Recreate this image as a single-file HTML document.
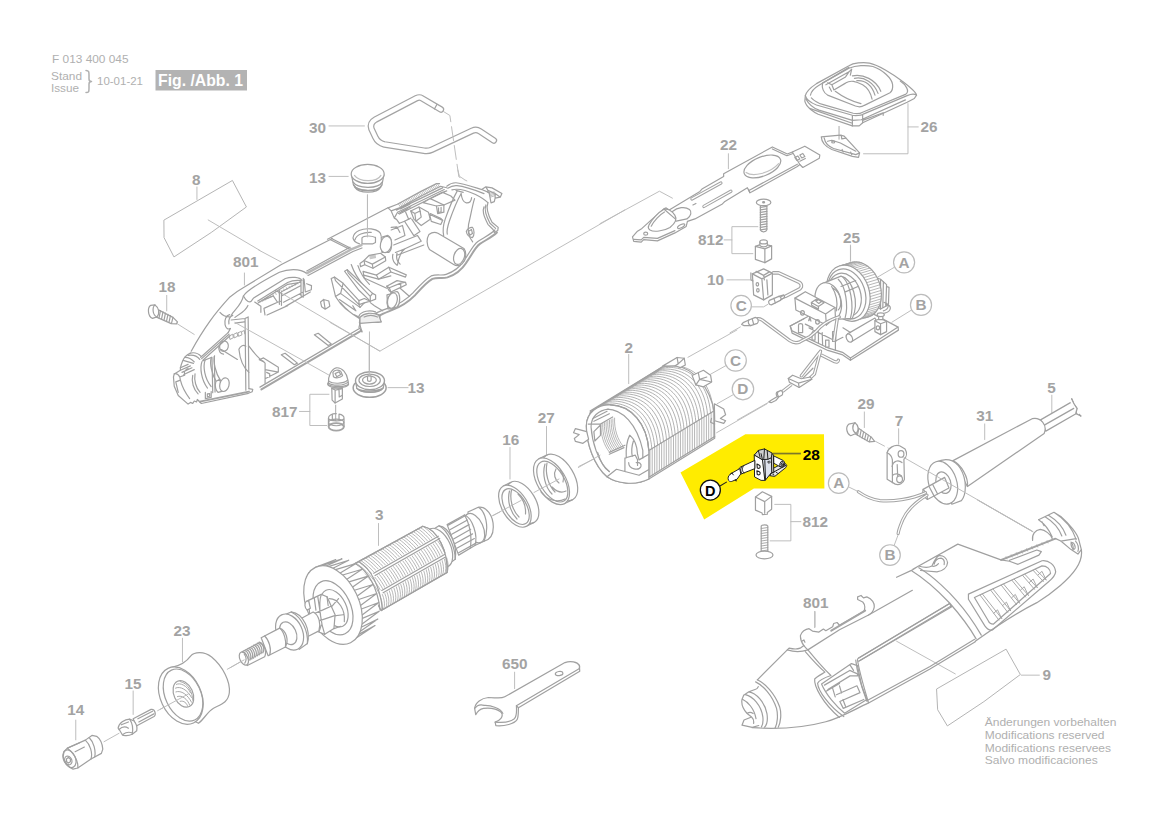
<!DOCTYPE html>
<html><head><meta charset="utf-8">
<style>
html,body{margin:0;padding:0;background:#fff;}
body{width:1169px;height:826px;overflow:hidden;font-family:"Liberation Sans",sans-serif;}
svg{display:block;position:absolute;left:0;top:0;}
svg path,svg line,svg ellipse,svg circle,svg polyline,svg polygon,svg rect{vector-effect:non-scaling-stroke;}
.l{fill:none;stroke:#a0a0a0;stroke-width:1.2;stroke-linecap:round;stroke-linejoin:round;}
.f{fill:#fff;stroke:#a0a0a0;stroke-width:1.2;stroke-linecap:round;stroke-linejoin:round;}
.t{fill:none;stroke:#bababa;stroke-width:0.95;stroke-linecap:round;stroke-linejoin:round;}
.k{fill:none;stroke:#a4a4a4;stroke-width:2;stroke-linecap:round;stroke-linejoin:round;}
.d{fill:none;stroke:#222;stroke-width:1;stroke-linecap:round;stroke-linejoin:round;}
.n{font-family:"Liberation Sans",sans-serif;font-weight:bold;font-size:15.3px;fill:#a3a3a3;}
.s{font-family:"Liberation Sans",sans-serif;font-size:11.5px;fill:#b0b0b0;}
</style></head><body>
<svg width="1169" height="826" viewBox="0 0 1169 826">
<g id="hdr">
<text class="s" x="52" y="63" textLength="76.5" lengthAdjust="spacingAndGlyphs">F 013 400 045</text>
<text class="s" x="51" y="79.5" textLength="31" lengthAdjust="spacingAndGlyphs">Stand</text>
<text class="s" x="51" y="91.5" textLength="28" lengthAdjust="spacingAndGlyphs">Issue</text>
<text class="s" x="97" y="84.8" textLength="46" lengthAdjust="spacingAndGlyphs">10-01-21</text>
<path class="l" d="M86,70.5 C89,70.5 89,72 89,75 L89,79 C89,81 90,81.5 91.5,81.5 C90,81.5 89,82 89,84 L89,88 C89,91.5 89,92.5 86,92.5" style="stroke:#b0b0b0;stroke-width:1.5"/>
<rect x="155.5" y="70" width="91.5" height="20.5" fill="#b3b3b3"/>
<text x="158" y="86" font-family="Liberation Sans" font-weight="bold" font-size="17" fill="#fff" textLength="85" lengthAdjust="spacingAndGlyphs">Fig. /Abb. 1</text>
</g>
<!-- yellow highlight (drawn early so others paint over) -->
<polygon points="680.5,472.4 745.4,434.2 824,434.2 824.4,488.6 753.9,488.6 704.2,519.4" fill="#ffec00"/>
<!-- zone S: origin 165,300 scale 1/6.4944 : left housing nose/interior -->
<g id="zS" transform="translate(165,300) scale(0.15398)">
<path class="l" d="M55,500 L60,480 L100,456 L100,440 C108,410 118,385 130,370 C140,358 152,350 165,345"/>
<path class="l" d="M165,345 C185,340 215,346 235,366 M150,360 C180,355 210,366 226,386 M130,372 C150,372 175,385 190,402 M118,392 L185,412"/>
<path class="l" d="M232,372 L410,212 M238,381 L416,222 M246,391 L422,232"/>
<path class="l" d="M420,95 C395,100 385,130 390,160 C395,186 410,192 422,186 M440,100 C420,108 412,130 415,155 M410,212 L425,185"/>
<path class="l" d="M520,120 L525,586 M540,110 L545,576 M520,120 L540,110 M430,130 L520,120 M455,150 L515,142"/>
<!-- nose -->
<path class="l" d="M55,500 L60,560 L86,620 L150,676 L166,665 L180,672 L190,656 L205,662 L210,646 L236,672 L542,606 L566,596 L570,580 L545,576"/>
<path class="k" d="M226,660 L545,595"/>
<path class="l" d="M60,480 C72,476 88,486 96,500 L128,488 C122,470 132,452 150,446 M96,500 L100,520 L70,532 M100,456 L165,428 M110,470 L175,440 M122,484 L190,452 M100,440 L150,418 M70,532 L86,600 M100,520 C110,560 130,600 160,640"/>
<path class="l" d="M180,490 C170,530 185,580 215,610 M195,480 C188,520 200,570 228,600 M240,400 C225,440 236,520 276,572 M260,392 C246,430 256,510 300,562 M300,372 C290,410 300,480 340,542 M322,362 C312,400 326,470 360,522"/>
<path class="l" d="M305,372 L310,602 M320,366 L325,598 M245,395 L305,372 M262,600 L262,640 L300,632 L300,595 M275,610 L290,608 L290,625 L275,628 Z"/>
<path class="f" d="M355,515 L330,530 C322,560 330,590 345,600 L375,592 Z"/>
<ellipse class="f" cx="386" cy="550" rx="30" ry="45" transform="rotate(15 386 550)"/>
<ellipse class="l" cx="383" cy="300" rx="28" ry="34" transform="rotate(15 383 300)"/>
<path class="l" d="M350,300 C345,330 360,350 380,352 M366,322 L470,386"/>
<path class="l" d="M480,320 C490,296 510,290 525,300 M480,320 C486,380 510,440 545,470 M545,300 C575,340 605,380 640,400"/>
<path class="l" d="M612,388 L640,376 L736,436 L736,468 M640,400 L650,410 L650,540 M650,452 L736,468 L650,512 M612,388 L640,400 M660,470 L680,480 L680,500"/>
<path class="l" style="stroke-width:0.9" d="M420,232 L440,222 L444,245 L424,255 Z M448,222 L468,212 L472,235 L452,245 Z M476,212 L496,204 L500,226 L480,235 Z M502,204 L515,198 L518,220"/>
<path class="l" d="M755,356 L780,346 L860,410 L840,420 Z M970,226 L995,216 L1080,286 L1060,296 Z"/>
</g>
<!-- zone T: origin 230,230 scale 1/9.717 : left housing slot detail -->
<g id="zT" transform="translate(230,230) scale(0.10291)">
<path class="l" d="M270,690 L560,510 C600,492 650,488 690,492 M275,708 L562,528 L690,508 M690,492 L690,640 L712,652 L712,470 M720,480 L732,602 L790,580 L792,540 L745,522 M500,600 L690,500 M500,640 L690,540 M520,702 L712,602 M540,742 L780,602 M440,590 L500,612 L500,732 M480,590 L480,722 M280,702 L420,640 L462,702 L330,762 M330,762 L340,826 M462,702 L500,690 M360,826 L560,735 M240,700 L300,740 L300,800"/>
<path class="t" style="stroke:#a4a4a4;stroke-width:0.7" d="M285,690 L291,706 M311,677 L317,693 M338,664 L344,680 M364,651 L370,667 M390,638 L396,654 M417,625 L423,641 M443,612 L449,628 M469,599 L475,615 M496,586 L502,602 M522,573 L528,589 M548,560 L554,576 M575,547 L581,563 M601,534 L607,550 M627,521 L633,537 M654,508 L660,524 M680,495 L686,511"/>
<path class="l" d="M880,700 L910,675 L960,690 L970,740 L925,770 L890,745 Z M910,675 L925,770"/>
</g>
<!-- zone A: origin 160,250 scale 1/4 -->
<g id="zA" transform="translate(160,250) scale(0.2498)">
<!-- outer top edge -->
<path class="l" d="M125,405 C150,360 175,320 200,285 C225,250 255,215 280,188 C300,172 320,158 338,148 L486,58 L690,-46"/>
<path class="l" d="M285,262 C295,240 325,225 334,184 C345,165 400,130 478,89 C510,76 560,72 588,94"/>
<path class="l" d="M300,270 C315,255 340,250 352,222 M334,184 C345,205 358,212 366,204 L375,192 L502,114 C525,106 560,108 568,122"/>
<path class="l" d="M240,250 C250,262 262,268 278,268"/>
<!-- bottom edge -->
<path class="l" d="M400,549 L800,313"/><path class="k" d="M406,558 L806,323"/>
<path class="l" d="M800,313 L808,327"/>
<!-- floor tabs -->


<!-- leaders -->
<path class="t" d="M300,290 L675,500 M490,175 L880,405 M70,296 L137,338 M338,92 L338,140 M395,0 L485,48"/>
</g>
<!-- zone W: origin 290,360 scale 1/8.977 : 817, 13 bottom -->
<g id="zW" transform="translate(290,360) scale(0.11140)">
<path class="t" d="M350,308 L178,308 L178,588 L330,588 M85,462 L178,462 M880,248 L1060,248 M712,-150 L712,160"/>
<path class="t" d="M410,405 L410,545" stroke-dasharray="22 10" style="stroke:#a4a4a4"/>
<!-- 817 stem -->
<path class="f" d="M375,250 L378,360 L405,386 L470,350 L470,255 Z"/>
<path class="l" d="M405,270 L405,386 M440,262 L442,332 L470,316 M405,270 L375,255 M405,270 L470,258"/>
<!-- 817 cap -->
<ellipse class="f" cx="432" cy="216" rx="94" ry="34"/>
<path class="f" d="M345,205 C340,150 370,80 415,70 C470,65 510,120 520,180 C526,200 524,215 518,222 C480,245 390,245 348,224 Z"/>
<path class="l" d="M350,190 C380,216 480,216 516,182 M346,206 C380,234 485,234 520,198 M385,112 C395,90 430,85 455,100 L472,140 C450,162 410,166 390,150 Z M405,122 L440,106 L456,130 L420,150 Z"/>
<!-- spring -->
<path class="l" d="M345,522 C345,496 380,480 415,482 M440,486 C470,490 488,506 485,526 L485,600 M345,522 L345,600 M350,530 C370,550 460,552 482,530 M380,488 L380,540 M440,486 L440,545"/>
<ellipse class="k" cx="415" cy="600" rx="68" ry="34" style="stroke-width:1.8"/>
<ellipse class="l" cx="415" cy="560" rx="68" ry="30"/>
<!-- 13 bottom -->
<ellipse class="f" cx="715" cy="250" rx="148" ry="85" style="stroke-width:1.5"/>
<path class="f" d="M588,188 L600,255 C640,300 800,300 838,250 L848,184 Z"/>
<ellipse class="f" cx="718" cy="186" rx="130" ry="80" style="stroke-width:1.4"/>
<ellipse class="l" cx="715" cy="182" rx="96" ry="56"/>
<ellipse class="l" cx="713" cy="180" rx="62" ry="36"/>
<path class="f" d="M696,150 C696,138 728,138 728,150 L728,182 C728,194 696,194 696,182 Z"/>
<path class="l" d="M600,255 C650,285 790,285 838,250 M612,262 C660,300 780,300 826,262"/>
<path class="t" d="M712,-150 L712,150"/>
</g>
<text class="n" x="272" y="417">817</text>
<text class="n" x="407.5" y="393">13</text>
<!-- zone B: origin 330,170 scale 1/4 -->
<g id="zB" transform="translate(330,170) scale(0.2498)">
<!-- top edges -->
<path class="l" d="M-10,277 L232,151"/>




<!-- right end -->

<path class="k" d="M668,250 C650,268 620,282 600,296 C580,310 565,345 545,372 C530,395 500,420 470,430 C450,436 430,428 410,436 C385,450 360,480 340,502 C320,522 290,545 250,560 C230,568 210,575 200,582 L196,602 C170,604 140,598 120,592"/>
<path class="l" d="M660,240 C640,260 612,272 592,286 C572,300 557,335 537,362 C522,385 495,408 465,418 C447,424 428,416 405,424 C380,438 352,470 332,492 C312,512 284,534 246,548 C224,556 200,566 180,574 M120,592 L118,610 M196,602 L205,608 C180,614 140,608 118,610 M150,582 C170,572 190,576 200,582"/>
<!-- inner curve behind cylinder -->


<!-- big cylinder -->
<path class="f" d="M396,258 C412,246 426,250 432,253 L536,314 C548,330 545,360 530,374 C518,384 505,384 495,378 L398,318 C386,300 386,275 396,258 Z"/>
<ellipse class="l" cx="517" cy="346" rx="21" ry="33" transform="rotate(18 517 346)"/>
<!-- small cylinders -->
<path class="f" d="M205,270 L232,262 C250,270 252,315 236,330 L208,330 Z"/>
<ellipse class="f" cx="224" cy="298" rx="22" ry="33" transform="rotate(12 224 298)"/>
<path class="f" d="M228,500 L262,492 C278,505 274,545 258,556 L232,556 Z"/>
<ellipse class="f" cx="250" cy="525" rx="21" ry="31" transform="rotate(14 250 525)"/>
<!-- plug seat -->
<path class="l" d="M92,272 C95,245 130,232 165,236 C190,240 205,252 205,265 M100,280 C105,258 135,248 165,250 M92,272 C94,285 105,292 118,296 M128,272 L128,296 L170,296 L182,290 L182,270 M128,272 C135,262 165,262 182,270"/>
<!-- mid details -->

<path class="l" d="M245,240 L290,222 L300,262 L260,280 M255,300 L350,262 L365,285 L300,315 L262,330 M245,230 L268,228 L280,250 M300,315 C285,325 275,350 270,380"/>
<path class="l" d="M6,274 L85,314 M2,279 L80,318 M-93,404 L80,309 M-88,422 L92,326 L128,312"/><path class="k" style="stroke:#b8b8b8;stroke-width:2.4" d="M-92,413 L85,318 L126,301"/>
<!-- opening edge continues -->
<path class="l" d="M118,610 L122,628 L128,648"/>
<!-- leaders -->
<path class="t" d="M150,100 L150,268 M158,648 L158,800 M0,610 L200,725 L1180,160"/>
<path class="t" d="M512,0 L518,25 L548,45" stroke-dasharray="12 5"/>
</g>
<!-- zone Z: origin 325,245 scale 1/9.717 : left housing mid interior -->
<g id="zZ" transform="translate(325,245) scale(0.10291)">
<path class="l" d="M255,190 C280,262 320,332 382,402 M320,200 C340,262 372,322 432,382 M660,90 C650,130 665,170 700,196 M700,80 C690,120 700,160 730,186 M700,100 L960,0 M730,420 L822,500 M560,640 L480,590 L440,560"/>
<!-- fin 2 -->
<path class="f" d="M190,255 L216,240 L462,470 L492,486 L492,526 L440,546 L330,440 Z"/>
<path class="l" d="M216,240 L225,270 L440,500 L462,470 M440,500 L440,546"/>
<!-- fin 1 -->
<path class="f" d="M60,325 L92,312 L176,372 L330,540 L382,520 L440,546 L382,562 L340,606 L150,470 L102,500 Z"/>
<path class="l" d="M92,312 L102,346 L330,580 L340,606 M330,540 L330,580 L382,562 M176,372 L152,470 M102,500 C150,580 230,660 330,700 M150,560 C200,620 260,670 330,712 M140,530 L300,640 L270,590"/>
<!-- block A -->
<path class="f" d="M380,150 L430,100 L540,80 L586,116 L590,152 L466,226 L386,192 Z"/>
<path class="l" d="M380,150 L460,186 L586,116 M460,186 L466,226 M340,180 L380,150 M340,180 L345,210 L386,192"/>
<path class="t" style="stroke:#a4a4a4;stroke-width:0.7" d="M436,104 L440,134 M446,102 L450,132 M456,100 L460,130 M466,98 L470,128 M476,96 L480,126 M486,94 L490,124"/>
<!-- block B -->
<path class="f" d="M370,256 L500,292 L620,216 L790,290 L782,312 L640,262 L520,332 L376,292 Z"/>
<path class="l" d="M500,292 L520,332 M620,216 L640,262 M376,292 L380,320 L600,420 M520,332 L640,300"/>
<!-- block C -->
<path class="f" d="M600,400 L700,346 L782,362 L790,386 L736,412 L640,456 L622,442 Z"/>
<path class="l" d="M600,400 L625,415 L736,370 L782,362 M625,415 L640,456 M736,370 L736,412"/>
<!-- small cylinder -->
<path class="f" d="M640,466 L700,452 C732,472 736,562 702,602 L660,612 Z"/>
<ellipse class="f" cx="655" cy="540" rx="46" ry="76" transform="rotate(14 655 540)"/>
<!-- seat -->
<path class="f" style="fill:#f0f0f0" d="M340,702 C380,660 460,650 522,682 L546,746 L340,762 Z"/>
<path class="l" d="M330,690 C350,640 440,630 490,650 M340,762 L330,800 M380,700 C420,680 470,680 510,700"/>
</g>
<!-- zone V: origin 385,178 scale 1/9.717 : left housing upper-right detail -->
<g id="zV" transform="translate(385,178) scale(0.10291)">
<path class="l" d="M30,290 L120,255 L350,130 L500,55 L530,55 M60,320 L140,290 L370,165 L540,80 L600,95 M110,312 L560,96 M122,332 L576,112 M30,290 L60,320 L90,390 L112,402 L140,440 M90,390 L122,332 M140,350 L560,140"/>
<path class="t" style="stroke:#a4a4a4;stroke-width:0.7" d="M130,252 L152,284 M145,244 L167,276 M160,236 L182,268 M176,229 L198,261 M191,221 L213,253 M206,213 L228,245 M221,205 L243,237 M236,197 L258,229 M252,190 L274,222 M267,182 L289,214 M282,174 L304,206 M297,166 L319,198 M312,158 L334,190 M328,151 L350,183 M343,143 L365,175 M358,135 L380,167 M373,127 L395,159 M388,119 L410,151 M404,112 L426,144 M419,104 L441,136 M434,96 L456,128 M449,88 L471,120 M464,80 L486,112 M480,73 L502,105 M495,65 L517,97 M510,57 L532,89"/>
<path class="l" d="M600,80 C630,55 660,45 690,46 C740,50 850,85 940,112 L1012,142 M610,100 C640,80 670,72 700,75 C750,80 880,120 962,152 M650,116 C700,100 780,115 880,160 C930,185 975,215 1000,240"/>
<path class="l" d="M940,112 L980,86 L1040,96 L1136,150 L1120,186 L1070,196 L1062,230 L1030,242 L1012,142 M980,86 L1000,120 L1070,150 L1120,186 M1000,120 L1000,140 M1070,150 L1070,196"/>
<path class="t" style="stroke:#a4a4a4;stroke-width:0.7" d="M1010,150 L1060,135 M1015,162 L1065,146 M1020,174 L1068,158 M1025,186 L1068,172"/>
<path class="l" d="M1000,240 C985,280 985,330 1040,430 L1100,480 L1096,510 L1062,530 M962,280 C945,320 955,360 1000,450 L1050,500 L1062,530 M980,262 C965,300 970,345 1020,440 L1075,490"/>
<path class="l" d="M700,130 C660,200 620,300 585,400 C565,460 560,510 570,560 M740,150 C700,220 660,320 625,420 C605,480 600,520 605,545 M870,200 C850,260 830,380 812,450 C800,520 820,580 852,620 M740,150 C745,200 760,235 790,242 C820,245 838,220 842,190 M690,120 L760,140"/>
<path class="l" d="M790,520 C800,495 830,475 850,480 C870,500 870,560 850,580 C820,575 795,550 790,520 Z M810,520 L840,500 L850,540 L825,555 Z"/>
<!-- blocks -->
<path class="f" d="M370,240 L440,200 L572,262 L572,332 L512,346 L500,272 Z"/>
<path class="l" d="M500,272 L572,262 M520,290 L520,335 L545,330 L545,285"/>
<path class="f" d="M250,320 L330,282 L422,332 L440,402 L352,462 L282,402 Z"/>
<path class="l" d="M250,320 L290,345 L300,420 M290,345 L340,320 L352,380 L300,420 M330,282 L345,330"/>
<path class="f" d="M432,352 L560,412 L542,452 L450,422 Z"/>
<path class="l" d="M560,412 L545,395 L440,345 M190,420 L280,560 L340,520 L260,400 M140,440 L190,420 L250,390"/>
<path class="l" d="M150,300 L240,255 M160,325 L250,280 M130,345 L220,302 M200,330 L230,400"/>
<path class="l" d="M572,262 L680,215 M440,200 L560,140 L640,175 L680,215 M560,140 L600,125"/>
</g>
<!-- zone C: origin 292,60 scale 1/4 : part 30, 13 top -->
<g id="zC" transform="translate(292,60) scale(0.2498)">
<path d="M596,198 L520,153 Q510,147 498,153 L335,238 Q310,252 318,276 L334,310 Q344,332 370,338 L528,363 Q545,366 560,359 L722,283 Q738,276 752,285 L808,322" fill="none" stroke="#a4a4a4" stroke-width="6.6" stroke-linecap="round" stroke-linejoin="round"/>
<path d="M596,198 L520,153 Q510,147 498,153 L335,238 Q310,252 318,276 L334,310 Q344,332 370,338 L528,363 Q545,366 560,359 L722,283 Q738,276 752,285 L808,322" fill="none" stroke="#fff" stroke-width="4.2" stroke-linecap="round" stroke-linejoin="round"/>
<path class="l" d="M580,178 L570,196"/>
<path class="t" d="M148,264 L290,264 M148,466 L225,466 M302,540 L302,690"/>
<path class="t" d="M606,206 L632,222 L668,468 L700,484" stroke-dasharray="14 5"/>
<!-- 13 top plug -->
<path class="f" d="M238,460 L246,500 C262,530 345,532 360,500 L368,460 Z"/>
<path class="l" d="M244,488 C262,516 345,518 362,488 M246,500 C262,528 345,530 360,500 M250,508 C268,536 340,536 356,508"/>
<ellipse class="f" cx="303" cy="456" rx="66" ry="38"/>
<path class="l" d="M250,462 C270,490 340,490 356,462" style="stroke:#c0c0c0"/>
</g>
<text class="n" x="309" y="132.5">30</text>
<text class="n" x="309" y="183">13</text>
<!-- zone D: origin 130,160 scale 1/4 : part 8, 18 -->
<g id="zD" transform="translate(130,160) scale(0.2498)">
<path class="t" style="stroke:#b0b0b0" d="M137,240 L410,82 L466,188 Q330,292 176,388 L137,312 Z"/>
<path class="t" d="M313,240 L520,362 M268,108 L268,158 M147,542 L147,604"/>
<!-- screw 18 -->
<path class="f" d="M108,597 L172,630 L190,648 L186,656 L165,655 L104,628 Z"/>
<path class="l" d="M122,603 L116,633 M132,608 L126,638 M142,613 L136,642 M152,618 L146,646 M162,623 L156,650 M172,630 L166,654"/>
<path class="f" d="M82,582 C70,590 70,626 90,634 L108,628 C120,616 116,590 100,580 Z"/>
<path class="l" d="M100,580 C88,590 90,622 108,628"/>
</g>
<text class="n" x="192" y="184.5">8</text>
<text class="n" x="233" y="267">801</text>
<text class="n" x="158.5" y="292">18</text>
<!-- zone E: origin 600,120 scale 1/4 : part 22, 812 top, 10, C -->
<g id="zE" transform="translate(600,120) scale(0.2498)">
<path class="f" d="M130,468 L150,445 L168,434 L200,405 L255,356 L265,352 L277,360 L400,286 L410,275 L495,226 L495,215 L690,108 L750,136 L770,128 L820,105 L880,140 L878,153 L812,190 L800,178 L790,186 L610,286 L600,291 L590,271 L500,326 L490,336 L380,396 L350,406 L345,426 L300,452 L230,484 L175,479 L165,489 L135,486 Z"/>
<path class="l" d="M135,478 L165,480 L175,470 L230,474 L300,443 M690,116 L748,143 L770,135 M770,128 L800,178 M595,278 L600,291 M600,280 L790,177"/>
<ellipse class="l" cx="650" cy="186" rx="78" ry="38" transform="rotate(-22 650 186)"/>
<path class="l" d="M585,210 C610,228 680,215 715,175" style="stroke:#c0c0c0"/>
<path d="M368,316 L484,252 M416,346 L524,285" fill="none" stroke="#a4a4a4" stroke-width="3.3" stroke-linecap="round"/>
<path d="M368,316 L484,252 M416,346 L524,285" fill="none" stroke="#fff" stroke-width="1.3" stroke-linecap="round"/>
<path class="l" d="M372,340 L384,334 M780,150 L792,144 L800,156 L788,162 Z M800,140 L812,134 L820,146 L808,152 Z M800,165 L822,154"/>
<!-- slider knob -->
<path class="f" d="M195,422 C205,400 235,368 255,358 C270,352 290,365 300,382 C310,398 300,415 280,430 C255,445 215,450 200,440 C192,434 192,428 195,422 Z"/>
<path class="l" d="M205,425 C215,405 240,378 258,368 M258,358 L300,395 M290,366 C310,350 340,345 358,358 C368,368 366,382 348,396 L305,405"/>
<ellipse class="l" cx="183" cy="455" rx="8" ry="6"/>
<ellipse class="l" cx="325" cy="425" rx="16" ry="6" transform="rotate(-28 325 425)"/>
<path class="t" d="M514,135 L514,195 M0,415 L238,285 L290,313"/>
<!-- 812 top screw -->
<path class="f" d="M642,338 L642,440 C645,450 665,450 668,440 L668,338 Z"/>
<path class="l" d="M642,350 L668,346 M642,360 L668,356 M642,370 L668,366 M642,380 L668,376 M642,390 L668,386 M642,400 L668,396 M642,410 L668,406 M642,420 L668,416 M642,430 L668,426 M642,440 L668,436"/>
<ellipse class="f" cx="655" cy="330" rx="29" ry="13"/>
<ellipse class="l" cx="655" cy="329" rx="4" ry="2.5"/>
<!-- block -->
<path class="f" d="M622,506 L650,496 L687,504 L687,556 L660,571 L622,558 Z"/>
<path class="l" d="M622,506 L660,516 L687,504 M660,516 L660,571"/>
<path class="f" d="M640,488 L640,502 C645,510 665,510 670,502 L670,488 Z"/>
<ellipse class="f" cx="655" cy="488" rx="15" ry="8"/>
<path class="t" d="M632,427 L528,427 L528,535 L612,535 M497,480 L528,480"/>
<!-- part 10 -->
<path d="M690,612 L715,612 L798,650 Q808,656 806,668 L800,676 L742,706 L724,712" fill="none" stroke="#a4a4a4" stroke-width="3.6" stroke-linejoin="round"/>
<path d="M690,612 L715,612 L798,650 Q808,656 806,668 L800,676 L742,706 L724,712" fill="none" stroke="#fff" stroke-width="1.4" stroke-linejoin="round"/>
<path class="f" d="M610,616 L655,596 L690,613 L690,700 L655,720 L615,700 Z"/>
<path class="l" d="M610,616 L648,636 L690,613 M648,636 L655,720 M625,606 L655,622 L678,608 M655,622 L658,640 M604,612 L604,640 L612,644 M668,640 L672,700"/>
<ellipse class="l" cx="630" cy="658" rx="5" ry="7"/><ellipse class="l" cx="632" cy="682" rx="5" ry="7"/>
<path class="f" d="M678,722 L716,706 C724,706 728,716 722,722 L686,740 C676,740 672,728 678,722 Z"/>
<path class="l" d="M696,714 L702,732 M716,706 L736,700 L740,710 L722,722"/>
<path class="t" d="M508,640 L605,640 M608,748 L655,748 L672,738"/>
<circle class="f" cx="565" cy="743" r="41" style="stroke:#bcbcbc"/>
<path class="t" d="M1003,505 L1003,565"/>
</g>
<text class="n" x="720" y="149.5">22</text>
<text class="n" x="698" y="244.5">812</text>
<text class="n" x="707" y="285">10</text>
<text class="n" x="843" y="243">25</text>
<text class="n" x="741.2" y="311.3" text-anchor="middle" font-size="14">C</text>
<!-- zone F: origin 760,40 scale 1/5.845 : part 26 -->
<g id="zF" transform="translate(760,40) scale(0.17108)">
<path class="f" d="M265,325 C270,305 300,275 330,255 L520,150 C545,135 600,128 640,135 C690,145 780,200 830,240 C870,270 910,300 915,322 L902,342 L860,364 L600,484 L580,502 L540,502 L340,434 C320,425 270,395 262,358 Z"/>
<path class="l" d="M265,325 C270,345 300,368 330,380 L540,440 C560,445 590,440 600,435 L860,325 C890,312 905,315 915,322 M268,345 C290,385 330,405 345,410 L540,470 L592,466 L850,350 M540,440 L540,502 M600,435 L600,484 M290,400 L535,485 M600,470 L720,425 L720,440"/>
<path class="l" d="M365,252 L520,165 C560,148 620,145 660,155 C720,175 770,225 775,260 C778,285 770,300 760,308 L610,382 C595,392 575,392 558,386 L395,322 C372,310 360,280 365,252 Z"/>
<path class="l" d="M295,322 C300,300 320,280 345,265 L520,160 M300,338 C320,360 350,372 370,378 L545,428 C565,432 590,428 600,422 L850,318 C880,300 850,260 820,240"/>
<path class="l" d="M385,262 L520,186 L536,170 L528,205 M520,186 L500,216 L420,262 L395,250 M420,262 L432,292 L500,252 C530,232 560,242 600,262 C640,286 650,322 655,346 M540,210 C600,196 680,232 706,300 M552,224 C610,212 668,252 690,312 M566,238 C616,232 656,268 672,322 M440,300 C480,330 540,360 590,372 M405,275 L418,300"/>
<!-- small piece -->
<path class="f" d="M358,566 L470,556 L492,562 L582,660 L576,686 L540,680 L420,640 C385,625 360,600 358,566 Z"/>
<path class="l" d="M375,572 C380,602 400,622 430,634 L560,670 L582,660 M395,592 L420,586 L470,602 L560,650 M475,558 L478,578 L502,574 M480,640 L486,655 M530,655 L536,670"/>
<ellipse class="l" cx="428" cy="596" rx="9" ry="6"/>
<path class="t" d="M462,505 L462,580" style="stroke:#a4a4a4"/>
<path class="t" d="M865,372 L865,665 L605,665 M865,508 L925,508"/>
</g>
<text class="n" x="920.5" y="131.5">26</text>
<!-- zone G: origin 730,230 scale 1/5.3136 : part 25 -->
<g id="zG" transform="translate(730,230) scale(0.18820)">
<!-- board -->
<path class="f" d="M320,510 L600,360 L893,516 L895,532 L640,692 L595,662 L520,640 L330,548 Z"/>
<path class="l" d="M640,680 L893,516 M330,536 L525,628 L598,650 L640,680 L640,692 M320,510 L330,536"/>
<!-- right bracket -->
<path class="f" d="M770,250 L800,262 L832,290 L828,405 L800,420 L770,400 Z"/>
<path class="l" d="M800,262 L800,420 M815,275 L812,410 M832,300 L845,305 L842,395 L828,405"/>
<path class="l" d="M828,395 C862,398 860,432 822,442 M818,385 C850,392 846,420 815,430"/>
<!-- wheel -->
<ellipse class="f" cx="688" cy="318" rx="112" ry="152" transform="rotate(-18 688 318)"/>
<path class="t" style="stroke:#a4a4a4;stroke-width:0.8" d="M534,228 L594,210 M542,218 L602,200 M550,210 L610,192 M559,202 L619,184 M569,196 L629,178 M580,192 L640,174 M591,189 L651,171 M602,187 L662,169 M614,188 L674,170 M626,189 L686,171 M638,192 L698,174 M649,197 L709,179 M661,203 L721,185 M672,211 L732,193 M683,220 L743,202 M693,230 L753,212 M703,241 L763,223 M711,253 L771,235 M719,266 L779,248 M726,280 L786,262 M732,294 L792,276 M737,309 L797,291 M740,324 L800,306 M743,339 L803,321 M744,354 L804,336 M744,369 L804,351 M743,384 L803,366 M741,398 L801,380 M737,412 L797,394 M733,424 L793,406 M727,436 L787,418 M720,447 L780,429 M712,456 L772,438 M704,464 L764,446 M694,471 L754,453 M684,477 L744,459"/>
<ellipse class="f" cx="628" cy="336" rx="112" ry="152" transform="rotate(-18 628 336)"/>
<ellipse class="l" cx="620" cy="340" rx="98" ry="136" transform="rotate(-18 620 340)"/>
<ellipse class="l" cx="610" cy="345" rx="84" ry="118" transform="rotate(-18 610 345)"/>
<!-- drum -->
<path class="f" d="M490,285 L590,245 C650,260 690,380 650,470 L560,475 Z"/>
<path class="l" d="M590,300 L668,268 M610,330 L680,300 M600,250 C640,290 660,400 640,470 M575,262 C615,300 630,400 612,466"/>
<ellipse class="f" cx="522" cy="380" rx="68" ry="102" transform="rotate(-15 522 380)"/>
<path class="l" d="M540,300 C560,330 575,380 565,430 M548,310 C590,330 600,400 575,425"/>
<!-- resistor -->
<path class="f" d="M625,552 L770,468 L790,505 L645,594 Z"/>
<ellipse class="f" cx="634" cy="574" rx="15" ry="23" transform="rotate(-25 634 574)"/>
<!-- terminal -->
<path class="f" d="M770,482 L800,470 L832,486 L832,540 L800,556 L770,540 Z"/>
<path class="l" d="M770,482 L800,498 L832,486 M800,498 L800,556"/>
<ellipse class="l" cx="786" cy="520" rx="9" ry="11"/>
<path class="f" d="M790,452 L790,476 L812,476 L812,452 Z"/>
<ellipse class="f" cx="801" cy="450" rx="19" ry="10"/>
<!-- legs -->
<path class="f" d="M364,505 C364,495 386,495 386,505 L386,545 L364,545 Z M436,545 L436,585 L452,585 L452,545 Z M508,585 L508,622 L526,622 L526,585 Z M545,540 L545,592 L562,592 L562,540 Z"/>
<path class="l" d="M395,470 L320,510 M400,500 L440,520 L440,545 M470,540 L470,600 M490,545 L492,610 M420,520 L560,590 L600,570 M560,590 L560,640 M600,520 L640,545"/>
<!-- switch block -->
<path class="f" d="M345,362 L400,328 L558,412 L560,465 L512,505 L350,425 Z"/>
<path class="l" d="M345,362 L508,446 L558,412 M508,446 L512,505 M432,385 L462,366 L500,386 L470,406 Z M456,378 L470,370 L486,380 L472,390 Z M432,385 L434,400 L470,420 L470,406"/>
<ellipse class="l" cx="385" cy="440" rx="10" ry="12"/><ellipse class="l" cx="465" cy="488" rx="10" ry="12"/>
<path class="l" d="M418,482 L424,462 L430,484 M420,476 L428,478"/>
<!-- wire tube -->
<path d="M128,478 Q150,466 170,478 L318,588 Q345,606 372,594 L425,566 Q460,540 480,515 Q520,480 580,462" fill="none" stroke="#a4a4a4" stroke-width="3.5" stroke-linecap="round" stroke-linejoin="round"/>
<path d="M128,478 Q150,466 170,478 L318,588 Q345,606 372,594 L425,566 Q460,540 480,515 Q520,480 580,462" fill="none" stroke="#fff" stroke-width="1.3" stroke-linecap="round" stroke-linejoin="round"/>
<path d="M570,470 L552,590" fill="none" stroke="#a4a4a4" stroke-width="3.5"/><path d="M570,470 L552,590" fill="none" stroke="#fff" stroke-width="1.3"/>
<path class="f" d="M100,478 L135,464 C150,466 155,488 145,496 L110,508 C98,505 94,488 100,478 Z"/>
<path class="l" d="M100,478 L70,492 L62,502 L75,508 L110,508 M118,472 L126,502"/>
<path class="t" d="M55,515 L0,546" stroke-dasharray="12 5"/>
<!-- leaders -->
<path class="t" d="M870,200 L785,250 M965,425 L860,490 M640,80 L640,165"/>
<circle class="f" cx="925" cy="172" r="56" style="stroke:#bcbcbc"/>
<circle class="f" cx="1015" cy="398" r="56" style="stroke:#bcbcbc"/>
</g>
<text class="n" x="904.1" y="267.9" text-anchor="middle" font-size="14">A</text>
<text class="n" x="921" y="310.4" text-anchor="middle" font-size="14">B</text>
<!-- zone P: origin 720,300 scale 1/6.886 : wires from board to D connector -->
<g id="zP" transform="translate(720,300) scale(0.14523)">
<path d="M692,352 L650,510 L612,545 M686,360 L560,522 M700,380 L790,425 Q812,432 815,415" fill="none" stroke="#a4a4a4" stroke-width="3.4" stroke-linecap="round" stroke-linejoin="round"/>
<path d="M692,352 L650,510 L612,545 M686,360 L560,522 M700,380 L790,425 Q812,432 815,415" fill="none" stroke="#fff" stroke-width="1.3" stroke-linecap="round" stroke-linejoin="round"/>
<path class="l" d="M640,470 L570,540"/>
<path class="f" d="M470,540 L500,518 L560,542 L622,530 L632,546 L545,602 L478,566 Z"/>
<path class="l" d="M470,540 L540,572 L632,546 M540,572 L545,602"/>
<path d="M492,582 L430,630" fill="none" stroke="#a4a4a4" stroke-width="3.4"/><path d="M492,582 L430,630" fill="none" stroke="#fff" stroke-width="1.3"/>
<path class="f" d="M390,636 L420,622 C434,628 434,648 426,656 L400,670 C388,664 384,646 390,636 Z"/>
<path class="l" d="M400,632 C392,644 396,660 406,666"/>
<path class="f" d="M395,664 L352,690 L335,702 L352,707 L384,692 L402,672 Z"/>
<path class="t" d="M328,708 L120,826"/>
</g>
<!-- zone H: origin 560,330 scale 1/5.3136 : part 2 stator -->
<g id="zH" transform="translate(560,330) scale(0.18820)">
<path class="t" d="M100,725 L330,612 M680,145 L940,0 M832,546 L1100,392 M365,130 L365,285 M880,190 L800,235 M918,345 L835,392"/>
<!-- body -->
<path class="f" d="M150,470 L162,434 L545,195 L612,190 C700,200 800,300 820,440 L822,575 L472,792 C400,830 300,815 250,780 C180,720 140,600 140,510 C140,440 200,395 268,398 Z"/>
<path class="t" style="stroke:#a4a4a4;stroke-width:0.85" d="M168,436 C192,402 240,392 276,398 C385,410 462,500 472,640 M184,427 C208,393 256,383 292,389 C401,401 478,491 488,631 M199,417 C223,383 271,373 307,379 C416,391 493,481 503,621 M215,408 C239,374 287,364 323,370 C432,382 509,472 519,612 M230,398 C254,364 302,354 338,360 C447,372 524,462 534,602 M246,389 C270,355 318,345 354,351 C463,363 540,453 550,593 M262,379 C286,345 334,335 370,341 C479,353 556,443 566,583 M277,370 C301,336 349,326 385,332 C494,344 571,434 581,574 M293,360 C317,326 365,316 401,322 C510,334 587,424 597,564 M308,351 C332,317 380,307 416,313 C525,325 602,415 612,555 M324,342 C348,308 396,298 432,304 C541,316 618,406 628,546 M340,332 C364,298 412,288 448,294 C557,306 634,396 644,536 M355,323 C379,289 427,279 463,285 C572,297 649,387 659,527 M371,313 C395,279 443,269 479,275 C588,287 665,377 675,517 M386,304 C410,270 458,260 494,266 C603,278 680,368 690,508 M402,294 C426,260 474,250 510,256 C619,268 696,358 706,498 M418,285 C442,251 490,241 526,247 C635,259 712,349 722,489 M433,275 C457,241 505,231 541,237 C650,249 727,339 737,479 M449,266 C473,232 521,222 557,228 C666,240 743,330 753,470 M464,256 C488,222 536,212 572,218 C681,230 758,320 768,460 M480,247 C504,213 552,203 588,209 C697,221 774,311 784,451 M496,238 C520,204 568,194 604,200 C713,212 790,302 800,442 M511,228 C535,194 583,184 619,190 C728,202 805,292 815,432"/>
<path class="t" style="stroke:#a4a4a4;stroke-width:0.8" d="M478,640 L478,778 M490,633 L490,771 M503,625 L503,763 M515,617 L515,755 M528,610 L528,748 M540,602 L540,740 M553,594 L553,732 M565,587 L565,725 M578,579 L578,717 M590,572 L590,710 M603,564 L603,702 M615,556 L615,694 M628,549 L628,687 M640,541 L640,679 M653,533 L653,671 M665,526 L665,664 M678,518 L678,656 M690,510 L690,648 M703,503 L703,641 M715,495 L715,633 M728,487 L728,625 M740,480 L740,618 M753,472 L753,610 M765,465 L765,603 M778,457 L778,595 M790,449 L790,587 M803,442 L803,580 M815,434 L815,572"/>
<path class="l" d="M472,640 L815,432 M472,782 L822,566 M472,640 L472,792 M160,430 L545,195"/>
<!-- front face -->
<path class="f" d="M268,398 C200,395 140,440 140,510 C140,600 180,720 250,780 C300,815 400,830 472,792 L472,640 C462,500 380,400 268,398 Z"/>
<path class="l" d="M258,420 C205,425 165,460 165,515 C170,590 200,700 262,752 M268,398 C380,400 462,500 472,640 M250,420 C330,420 410,500 440,640 L440,680"/>
<path class="t" style="stroke:#a4a4a4;stroke-width:0.8" d="M218,500 C215,560 235,615 262,648 M227,496 C224,556 244,611 271,644 M236,492 C233,552 253,607 280,640 M245,488 C242,548 262,603 289,636 M254,484 C251,544 271,599 298,632 M263,480 C260,540 280,595 307,628 M272,476 C269,536 289,591 316,624 M281,472 C278,532 298,587 325,620 M290,468 C287,528 307,583 334,616"/>
<path class="l" d="M175,470 L250,432 M180,485 L262,445 M215,500 L280,462 M150,500 L215,500 M180,540 L215,505 L215,560 L185,590 Z M262,650 L345,612 M262,660 L340,625"/>
<path class="l" d="M372,560 C395,580 410,620 412,660 L420,690 L470,662 M345,680 L345,752 L420,772 L470,742 M345,680 L400,665 L412,690 L412,720 M365,705 C365,740 420,750 430,725 C435,710 420,700 405,705 M370,560 C355,590 350,640 352,680 M390,590 C380,620 380,650 384,672 M250,780 L300,740 L345,752 M200,650 C215,700 240,740 262,752"/>
<!-- left tabs -->
<path class="f" d="M142,540 L82,524 L72,546 L102,556 L76,576 L82,592 L122,602 L152,580 Z"/>
<!-- top/right tabs -->
<path class="f" d="M545,192 L622,146 L660,150 L666,186 L640,200 L612,190 Z"/>
<path class="l" d="M622,146 L628,180 L660,150 M628,180 L612,190"/>
<path class="f" d="M702,242 L762,214 L800,240 L806,276 L762,302 L722,292 Z"/>
<path class="l" d="M735,228 L742,262 L780,250 M742,262 L722,292 M742,262 L800,275"/>
<path class="f" d="M820,392 L870,420 L880,450 L852,470 L880,482 L870,496 L822,482 Z"/>
<path class="l" d="M822,500 L800,490 L805,470"/>
<circle class="f" cx="933" cy="162" r="57" style="stroke:#bcbcbc"/>
<circle class="f" cx="972" cy="314" r="57" style="stroke:#bcbcbc"/>
</g>
<text class="n" x="624.5" y="352.8">2</text>
<text class="n" x="735.6" y="365.6" text-anchor="middle" font-size="14">C</text>
<text class="n" x="742.9" y="394.2" text-anchor="middle" font-size="14">D</text>
<!-- parts 27, 16 in target coords -->
<g id="p27">
<path class="t" d="M546.5,426.5 L546.5,454 M510,447.5 L510,479 M578.3,467.5 L600,455.2"/>
<!-- 27 -->
<ellipse class="f" cx="559.7" cy="477.4" rx="14.2" ry="25.8" transform="rotate(-31 559.7 477.4)"/>
<path class="l" d="M538.9,458.8 L547.1,454.9 M564.1,503.8 L572.3,499.9"/>
<ellipse class="f" cx="551.5" cy="481.3" rx="14.2" ry="25.8" transform="rotate(-31 551.5 481.3)"/>
<ellipse class="l" cx="552.3" cy="481.6" rx="12" ry="22.6" transform="rotate(-31 552.3 481.6)"/>
<path class="l" d="M545,464 C542,474 545,487 552,494 M547,463 C545,473 548,485 555,492 M541,492 C547,500 557,503 565,499 M552,487 C557,492 562,493 566,491"/>
<path class="l" d="M556,469 C553,474 555,480 559,483 M560,470 C563,473 564,478 563,482"/>
<path class="t" d="M534,492.5 L559,479"/>
<!-- 16 -->
<ellipse class="f" cx="522.6" cy="502.3" rx="12.9" ry="23.2" transform="rotate(-31 522.6 502.3)"/>
<path class="l" d="M503.4,486.1 L511.1,482.2 M526.4,526.3 L534.1,522.4"/>
<ellipse class="f" cx="514.9" cy="506.2" rx="12.9" ry="23.2" transform="rotate(-31 514.9 506.2)"/>
<ellipse class="l" cx="515.6" cy="506.6" rx="10.6" ry="19.8" transform="rotate(-31 515.6 506.6)"/>
<path class="l" d="M509.5,491 C507,500 510,512 517,519 M511.5,490 C509.5,499 512,510 519,517 M518,494 C523,499 526,507 525.5,514"/>
<path class="t" d="M492,516 L521,500.5"/>
</g>
<text class="n" x="537.8" y="423.4">27</text>
<text class="n" x="502.2" y="444.6">16</text>
<!-- zone J: origin 230,490 scale 1/4.3296 : part 3 armature -->
<g id="zJ" transform="translate(230,490) scale(0.23097)">
<path class="t" d="M0,770 L48,742 M1140,110 L1169,95 M643,145 L643,240"/>
<!-- end bearing -->
<path class="f" d="M1030,95 L1075,75 C1110,70 1140,110 1140,160 C1140,195 1125,215 1100,222 L1060,240 Z"/>
<ellipse class="f" cx="1058" cy="165" rx="38" ry="68" transform="rotate(-25 1058 165)"/>
<path class="l" d="M1075,75 C1105,90 1125,160 1100,222"/>
<!-- commutator -->
<path class="f" d="M940,150 L1015,108 C1050,120 1075,200 1060,240 L990,282 Z"/>
<path class="l" d="M945,152 L1020,110 M952,172 L1028,130 M960,192 L1035,150 M968,212 L1042,170 M975,232 L1050,190 M982,252 L1058,210 M990,272 L1065,230"/>
<path class="l" d="M1015,108 C1035,140 1050,200 1040,252"/>
<!-- end ring -->
<path class="f" d="M880,170 L905,155 C950,160 985,240 975,300 L950,318 Z"/>
<ellipse class="f" cx="905" cy="250" rx="50" ry="90" transform="rotate(-25 905 250)"/>
<path class="l" d="M905,155 C945,175 975,250 975,300"/>
<!-- core -->
<path class="f" d="M535,322 L835,157 C900,170 945,270 940,357 L655,522 Z"/>
<path class="t" style="stroke:#a4a4a4;stroke-width:0.8" d="M535,322 C590,357 680,462 655,522 M545,316 C600,351 690,456 665,516 M556,311 C611,346 700,451 675,511 M566,305 C621,340 709,445 684,505 M576,299 C631,334 719,439 694,499 M587,294 C642,329 729,434 704,494 M597,288 C652,323 739,428 714,488 M607,282 C662,317 749,422 724,482 M618,276 C673,311 759,416 734,476 M628,271 C683,306 768,411 743,471 M638,265 C693,300 778,405 753,465 M649,259 C704,294 788,399 763,459 M659,254 C714,289 798,394 773,454 M669,248 C724,283 808,388 783,448 M680,242 C735,277 818,382 793,442 M690,237 C745,272 827,377 802,437 M701,231 C756,266 837,371 812,431 M711,225 C766,260 847,365 822,425 M721,220 C776,255 857,360 832,420 M732,214 C787,249 867,354 842,414 M742,208 C797,243 877,348 852,408 M752,203 C807,238 886,343 861,403 M763,197 C818,232 896,337 871,397 M773,191 C828,226 906,331 881,391 M783,185 C838,220 916,325 891,385 M794,180 C849,215 926,320 901,380 M804,174 C859,209 936,314 911,374 M814,168 C869,203 945,308 920,368 M825,163 C880,198 955,303 930,363 M835,157 C890,192 965,297 940,357"/>
<path class="k" style="stroke:#fff;stroke-width:5" d="M625,365 L905,205 M660,440 L930,285"/>
<path class="l" d="M622,360 L902,200 M628,370 L908,210 M657,435 L927,280 M663,445 L933,290 M535,322 L835,157 M655,522 L940,357 M835,157 C900,170 945,270 940,357"/>
<path class="l" d="M560,312 C610,340 650,420 660,515 M545,320 C600,350 640,430 650,520"/>
<!-- fan -->
<ellipse fill="#fff" stroke="none" cx="520" cy="462" rx="108" ry="172" transform="rotate(-25 520 462)"/>
<path class="f" d="M331,376 L418,336 L341,359 M348,351 L435,314 L361,340 M370,335 L458,301 L387,329 M397,328 L485,298 L416,329 M426,332 L514,304 L446,339 M457,345 L544,319 L477,359 M488,368 L572,343 L506,386 M515,398 L598,373 L531,420 M539,434 L619,409 L551,459 M557,474 L635,448 L565,500 M569,515 L644,487 L572,541 M573,556 L646,525 L572,580 M570,593 L640,559 L563,613 M559,624 L628,587 L548,640"/>
<ellipse class="f" cx="446" cy="498" rx="112" ry="180" transform="rotate(-25 446 498)"/>
<ellipse class="l" cx="446" cy="510" rx="76" ry="124" transform="rotate(-25 446 510)"/>
<ellipse class="l" cx="452" cy="512" rx="52" ry="86" transform="rotate(-25 452 512)"/>
<!-- hub gear -->
<path class="f" d="M340,478 L395,452 L420,462 L455,540 L450,600 L410,625 L385,615 L345,540 Z"/>
<path class="l" d="M395,452 C380,500 395,580 410,625 M365,468 L372,520 M380,462 L392,540 M352,540 L400,520 L445,500 M360,575 L405,560 L450,545 M385,615 L395,585 M420,462 L425,500 M440,505 L470,470 M450,545 L490,540 M450,600 L480,590 M430,470 C470,470 500,520 495,570"/>
<path class="f" d="M330,482 C322,490 322,510 334,520 L348,512 L340,478 Z"/>
<!-- shaft -->
<path class="f" d="M310,555 L360,528 C385,540 395,580 385,610 L335,635 Z"/>
<!-- bearing -->
<path class="f" d="M225,545 L265,528 C320,535 350,610 335,665 L300,690 Z"/>
<ellipse class="f" cx="258" cy="615" rx="55" ry="82" transform="rotate(-25 258 615)"/>
<path class="l" d="M265,528 C310,550 340,610 335,665"/>
<ellipse class="l" cx="252" cy="620" rx="34" ry="52" transform="rotate(-25 252 620)"/>
<!-- shaft left -->
<path class="f" d="M135,640 L215,598 C245,610 255,650 240,680 L165,718 Z"/>
<path class="l" d="M150,632 C170,650 180,690 172,714 M215,598 C235,615 245,655 240,680"/>
<path class="f" d="M52,700 L128,660 C150,670 160,700 150,722 L75,760 Z"/>
<path class="l" d="M54,700 C70,702 80,730 70,746 M62,695 C78,697 88,725 78,741 M70,691 C86,693 96,721 86,737 M78,686 C94,688 104,716 94,732 M86,682 C102,684 112,712 102,728 M94,677 C110,679 120,707 110,723 M102,672 C118,674 128,702 118,718 M110,668 C126,670 136,698 126,714 M118,663 C134,665 144,693 134,709 M126,659 C142,661 152,689 142,705"/>
<ellipse class="f" cx="60" cy="730" rx="17" ry="30" transform="rotate(-25 60 730)"/>
<path class="l" d="M62,712 C72,722 72,740 64,750"/>
</g>
<text class="n" x="375" y="519.6">3</text>
<!-- zone K: origin 40,610 scale 1/5.3136 : parts 23, 15 -->
<g id="zK" transform="translate(40,610) scale(0.18820)">
<path class="t" d="M757,150 L757,275 M495,430 L495,555 M190,585 L190,690 M340,700 L420,655 M625,535 L790,445 M995,315 L1085,265"/>
<!-- 23 -->
<path class="f" d="M700,305 C745,295 775,280 800,245 C820,222 872,218 912,250 C972,300 1012,380 1006,440 C1000,492 960,502 922,522 C890,540 872,580 842,602 L760,560 Z"/>
<ellipse class="f" cx="748" cy="455" rx="108" ry="160" transform="rotate(-25 748 455)"/>
<ellipse class="l" cx="760" cy="452" rx="94" ry="146" transform="rotate(-25 760 452)"/>
<ellipse class="l" cx="762" cy="446" rx="50" ry="74" transform="rotate(-25 762 446)"/>
<path class="t" style="stroke:#a4a4a4" d="M725,395 C745,385 780,400 800,440 M720,415 C745,402 785,425 805,465 M722,435 C750,425 785,450 805,490 M730,460 C755,450 785,475 795,505 M745,485 C765,480 780,495 785,512 M745,380 C790,390 810,440 812,480"/>
<path class="t" d="M640,527 L790,445"/>
<!-- 15 -->
<path class="f" d="M495,578 L590,528 C612,524 618,556 606,566 L512,616 Z"/>
<path class="l" d="M520,578 L598,538 M525,595 L605,552"/>
<path class="f" d="M415,628 C418,602 450,580 476,580 L500,590 C512,605 518,625 514,642 L490,660 C470,668 445,670 438,664 C430,650 425,640 415,628 Z"/>
<path class="l" d="M476,580 C490,600 495,635 490,660 M420,635 C435,620 455,618 470,628 M440,662 C455,650 475,648 488,652 M432,610 L470,595"/>
</g>
<!-- zone K2: origin 40,700 scale 1/10.59 : part 14 -->
<g id="zK2" transform="translate(40,700) scale(0.09443)">
<path class="f" d="M245,600 L255,545 L290,510 L480,425 L550,375 L600,385 C635,410 660,470 665,520 L650,565 L540,625 L400,720 L350,732 C300,715 255,660 245,600 Z"/>
<ellipse class="l" cx="312" cy="622" rx="62" ry="98" transform="rotate(-25 312 622)"/>
<ellipse class="l" cx="300" cy="640" rx="36" ry="48" transform="rotate(-25 300 640)"/>
<path class="l" d="M290,510 C345,545 410,640 400,720 M480,425 C530,470 560,560 540,625 M522,400 C570,445 592,540 580,602 M372,548 L470,498 M300,506 L420,452 M280,625 L300,610 L322,625 L322,655 L302,668 L282,655 Z"/>
</g>
<text class="n" x="173.5" y="636">23</text>
<text class="n" x="124.6" y="688.8">15</text>
<text class="n" x="67.2" y="714.5">14</text>
<!-- zone L: origin 450,640 scale 1/7.306 : part 650 wrench -->
<g id="zL" transform="translate(450,640) scale(0.13687)">
<path class="t" d="M472,235 L472,355"/>
<path class="f" d="M180,500 C185,455 230,425 280,420 C330,420 370,432 400,415 L840,165 C880,150 930,160 945,185 L948,228 L500,495 C498,525 502,560 490,582 C470,612 400,632 335,626 L330,600 C370,586 386,560 380,540 C370,510 300,490 245,500 C215,506 196,530 188,546 Z"/>
<path class="l" d="M180,500 C195,480 222,468 250,478 C300,476 372,500 386,536 M485,480 L940,212 C948,204 948,192 945,185 M485,480 L500,495 M485,480 C488,520 485,560 470,575 C440,600 380,605 330,600"/>
<ellipse class="l" cx="797" cy="245" rx="28" ry="15" transform="rotate(-8 797 245)"/>
</g>
<text class="n" x="502" y="668.6">650</text>
<!-- zone M: origin 670,420 scale 1/6.4944 : part 28, D, 812 bottom, A -->
<g id="zM" transform="translate(670,420) scale(0.15398)">
<circle cx="262" cy="455" r="65" fill="#fff" stroke="#111" stroke-width="1.3"/>
<!-- 812 bottom -->
<path class="f" d="M555,500 L600,466 L660,496 L660,580 L632,600 L632,612 L600,615 L598,604 L555,585 Z"/>
<path class="l" d="M555,500 L615,530 L660,496 M615,530 L615,606"/>
<path class="t" d="M680,548 L785,548 L785,785 L650,785 M785,660 L850,660"/>

</g>
<!-- zone Y: origin 720,440 scale 1/14.61 : part 28 detail -->
<g id="zY" transform="translate(720,440) scale(0.068446)">
<path d="M765,198 L1182,198" fill="none" stroke="#7d7828" stroke-width="1.7"/>
<!-- base plate -->
<path class="d" style="fill:#e8e8e8" d="M670,470 L940,330 L975,370 L962,402 L800,532 L730,522 Z"/>
<path class="d" d="M730,522 L745,490 L960,372 M745,490 L690,478 M770,500 L790,512 M820,470 L840,484"/>
<!-- cylinder -->
<path class="d" style="fill:#fff" d="M790,235 L925,300 C950,320 950,370 925,395 L880,392 L790,342 Z"/>
<ellipse class="d" cx="905" cy="352" rx="30" ry="44" transform="rotate(20 905 352)" style="fill:#ccd"/>
<ellipse class="d" cx="908" cy="354" rx="14" ry="22" transform="rotate(20 908 354)" style="fill:#fff"/>
<!-- back plate -->
<path class="d" style="fill:#c8c8c8" d="M750,196 L780,215 L786,482 L756,470 Z"/>
<!-- box -->
<path class="d" style="fill:#dfe3ee" d="M620,286 L750,260 L756,470 L665,585 L655,590 Z"/>
<path class="d" style="fill:#fff" d="M505,216 L620,286 L655,590 L600,590 L510,542 Z"/>
<path class="d" style="fill:#d0d0d0" d="M505,216 L560,152 L650,130 L760,190 L750,260 L700,282 L620,286 Z"/>
<path class="d" d="M560,152 L585,250 M650,130 L640,270 M690,160 L700,282 M600,200 L620,286 M655,300 L665,585 M700,320 C715,300 735,305 730,330 C720,345 705,345 700,320"/>
<path class="d" style="stroke-width:1.1" d="M540,350 L545,410 C590,430 600,380 570,365 Z M538,450 L545,505 C590,525 600,475 570,460 Z"/>
<!-- wire -->
<path class="d" style="fill:#fff" d="M505,300 L300,395 C270,410 265,470 300,500 L505,420 Z"/>
<path class="d" d="M345,378 C320,400 320,460 350,482 M320,388 C296,410 296,468 324,492"/>
<path class="d" style="fill:#fff" d="M285,420 L180,480 L150,500 C120,520 110,560 125,590 C140,612 165,610 185,600 L250,572 L300,500 Z"/>
<path class="d" d="M180,480 L160,495 L150,500 M230,580 L240,600 L220,590 M175,482 L195,510"/>
<path d="M100,612 L0,672" fill="none" stroke="#222" stroke-width="1.1" stroke-dasharray="14 6"/>
</g>
<!-- 812 bottom screw in target coords -->
<g id="scr812b">
<path class="f" d="M761.2,526 C762,524.5 767,524.5 767.8,526 L767.8,553 L761.2,553 Z"/>
<path class="l" style="stroke-width:0.9" d="M761.2,528.5 L767.8,527.5 M761.2,531 L767.8,530 M761.2,533.5 L767.8,532.5 M761.2,536 L767.8,535 M761.2,538.5 L767.8,537.5 M761.2,541 L767.8,540 M761.2,543.5 L767.8,542.5 M761.2,546 L767.8,545 M761.2,548.5 L767.8,547.5 M761.2,551 L767.8,550"/>
<ellipse class="f" cx="764.5" cy="555" rx="8.5" ry="3.8"/>
</g>
<text x="802.7" y="460" font-family="Liberation Sans" font-weight="bold" font-size="15.5" fill="#000">28</text>
<text x="710.3" y="495.6" font-family="Liberation Sans" font-weight="bold" font-size="14.5" fill="#000" text-anchor="middle">D</text>
<text class="n" x="802.5" y="526.8">812</text>
<!-- zone N: origin 820,370 scale 1/4.1714 : parts 29, 7, 31, 5, A, B -->
<g id="zN" transform="translate(820,370) scale(0.23973)">
<path class="t" d="M185,175 L185,240 M328,245 L328,310 M687,225 L687,290 M967,105 L967,180 M120,488 L155,505 M310,730 L325,690"/>
<path class="t" d="M232,298 L285,326" stroke-dasharray="10 4"/>
<!-- cord 5 -->
<path class="f" d="M920,208 L1050,133 L1075,178 L942,255 Z"/>
<path class="l" d="M932,232 L1064,157 M1050,120 L1058,140 L1050,133 M1058,140 L1072,160 L1068,180 L1075,178 L1088,192"/>
<path d="M1046,128 L1080,184" stroke="#fff" stroke-width="2" fill="none"/>
<path class="l" d="M1050,120 L1060,142 L1072,160 L1068,182 L1088,192"/>
<!-- sleeve -->
<path class="f" d="M555,378 L885,203 C920,195 950,230 935,265 L615,486 Z"/>
<!-- flange -->
<path class="f" d="M485,385 C520,365 560,370 585,410 C615,460 610,520 590,545 L550,560 Z"/>
<path class="l" d="M555,378 C590,395 620,450 615,486"/>
<ellipse class="f" cx="512" cy="470" rx="58" ry="92" transform="rotate(-18 512 470)"/>
<ellipse class="l" cx="515" cy="470" rx="30" ry="46" transform="rotate(-18 515 470)"/>
<!-- cord stub out of flange front -->
<path class="f" d="M520,448 L430,498 C425,510 435,535 448,540 L538,492 Z"/>
<path class="l" d="M430,498 C440,505 448,525 448,540 M470,478 L490,516 M455,486 L475,524"/>
<!-- wires -->
<path d="M440,512 C380,540 300,550 250,545 C210,540 180,522 160,508" fill="none" stroke="#a4a4a4" stroke-width="3.2" stroke-linecap="round"/>
<path d="M440,512 C380,540 300,550 250,545 C210,540 180,522 160,508" fill="none" stroke="#fff" stroke-width="1.2" stroke-linecap="round"/>
<path d="M446,522 C400,550 360,590 345,625 C335,650 328,665 326,682" fill="none" stroke="#a4a4a4" stroke-width="3.2" stroke-linecap="round"/>
<path d="M446,522 C400,550 360,590 345,625 C335,650 328,665 326,682" fill="none" stroke="#fff" stroke-width="1.2" stroke-linecap="round"/>
<!-- 7 clamp -->
<path class="f" d="M280,345 C285,325 310,310 332,316 L355,330 C364,345 362,362 350,372 L352,456 C348,472 330,482 314,476 L280,456 Z"/>
<path class="l" d="M280,345 C295,352 300,360 302,375 L302,470 M300,402 C305,380 326,372 342,386 M322,395 L324,440 M302,440 C312,430 330,432 340,442"/>
<ellipse class="l" cx="338" cy="350" rx="12" ry="14"/><ellipse class="l" cx="332" cy="456" rx="12" ry="14"/>
<path class="t" d="M350,365 L885,672"/>
<!-- 29 screw -->
<path class="f" d="M150,236 L214,280 L228,298 L206,300 L146,266 Z"/>
<path class="l" d="M162,244 L156,272 M172,251 L166,278 M182,258 L176,284 M192,265 L186,290 M202,272 L196,295 M212,279 L206,299"/>
<path class="f" d="M120,226 C106,236 110,266 128,274 L152,264 C164,250 160,230 146,220 Z"/>
<path class="l" d="M146,220 C132,230 134,258 152,264"/>
<circle class="f" cx="78" cy="472" r="43" style="stroke:#bcbcbc"/>
<circle class="f" cx="292" cy="772" r="43" style="stroke:#bcbcbc"/>
</g>
<text class="n" x="857.5" y="408.5">29</text>
<text class="n" x="894.8" y="425.7">7</text>
<text class="n" x="976.2" y="421">31</text>
<text class="n" x="1047.3" y="393">5</text>
<text class="n" x="890" y="560.2" text-anchor="middle" font-size="14">B</text>
<text class="n" x="838.7" y="488.3" text-anchor="middle" font-size="14">A</text>
<!-- zone O: origin 730,500 scale 1/3.1514 : right housing 801, plate 9 -->
<g id="zO" transform="translate(730,500) scale(0.31732)">
<path class="t" d="M268,352 L268,400 M780,0 L955,100 M918,552 L975,552"/>
<path fill="#fff" stroke="none" d="M40,640 L45,615 L70,600 L85,575 L92,558 L180,470 L220,455 L225,430 C232,415 250,405 270,405 L290,412 L330,396 L400,350 L440,335 C445,320 440,310 430,305 L412,310 L404,300 L430,295 L550,225 L590,205 L640,202 C640,185 655,172 675,172 L720,140 L760,150 L860,185 L950,150 C940,135 945,110 962,100 L975,70 L985,50 L1020,40 L1080,75 L1095,125 L1110,160 C1112,180 1108,195 1100,205 L1060,262 L1000,320 L900,392 L760,472 L600,562 L440,652 L350,692 L200,716 L100,722 L45,716 L40,692 L70,682 L55,656 Z"/>
<!-- leader to plate -->
<path class="t" d="M525,445 L710,548"/>
<!-- plate 9 -->
<path class="t" style="stroke:#b0b0b0" d="M652,595 L870,470 L915,550 Q800,640 685,712 L655,662 Z"/>
</g>
<!-- zone Q: origin 730,590 scale 1/5.845 : right housing left part strokes -->
<g id="zQ" transform="translate(730,590) scale(0.17108)">
<path class="l" d="M160,525 L335,350 L345,340 C370,346 395,346 410,340 L432,325 C420,310 410,290 412,265 C418,245 440,228 462,226 L482,240 L520,246 L546,228 L560,238 L600,215 L606,196 L626,190 L640,206 L780,126 C792,112 790,85 776,70 L746,56 L746,40 L766,32 L780,46 L800,40 C830,50 848,80 842,105 C838,125 822,140 810,146"/>
<path class="k" d="M592,238 L790,120"/>
<path class="l" d="M455,350 L640,232 L810,146 L1066,2 M335,350 C380,365 420,362 455,350 M432,325 C440,335 450,345 455,350 M420,300 L432,292 L438,305"/>
<!-- nose -->
<path class="l" d="M160,525 C205,545 262,605 290,682 C302,722 297,772 282,802 M150,537 C192,558 246,612 272,692 C282,732 277,782 264,806 M165,565 C160,575 155,580 150,580 L110,595 C152,602 202,652 216,722 C222,762 212,792 202,802 M80,615 L110,595 M90,612 C132,622 182,672 192,742 C195,770 190,790 184,800 M70,640 L80,615 M75,640 C102,652 142,692 152,752 M70,640 C65,670 80,700 100,722 L126,742 L82,760 L70,790 L130,803 L168,792 M100,722 C110,715 125,715 135,722 M126,742 C135,750 140,765 138,780"/>
<path class="l" d="M130,805 C300,816 450,800 560,770 C640,750 720,702 810,660 L1169,462 L1434,302 M805,645 L1169,447 L1430,288"/>
<!-- front grip boundary -->
<path class="l" d="M455,350 C480,380 520,430 560,470 C575,485 585,495 590,500 M440,360 C470,395 520,450 555,480 C540,490 510,505 495,520 C490,560 540,660 640,745 M590,500 C560,510 520,530 512,545 C515,590 580,680 665,740"/>
<!-- vent left -->
<path class="l" d="M535,550 L710,430 L745,442 L770,560 L800,640 L670,720 C620,680 560,610 535,550 Z M552,556 L700,470 L745,490 L746,502 L702,502 L572,582 M562,592 L640,546 M622,612 L742,560 L760,600 L642,652 M642,652 L662,692 L782,640 M700,436 L722,470 M640,560 L652,602 M600,575 L615,625 M660,640 L675,680"/>
<!-- panel -->
<path class="l" d="M748,400 L1284,79 M752,416 L1290,95 M745,405 C750,450 780,560 810,660 M735,410 C740,460 770,570 800,650"/>
<path class="t" d="M495,125 L495,220"/>
</g>
<!-- zone R: origin 900,500 scale 1/5.845 : right housing right part strokes -->
<g id="zR" transform="translate(900,500) scale(0.17108)">
<path class="t" d="M455,0 L775,185"/>
<path class="l" d="M-20,452 L70,410 L108,386 C140,396 170,396 186,386 C196,366 206,340 226,326 C250,320 276,340 278,366 C276,396 250,416 216,420 L120,412 M186,386 C200,390 215,385 225,372 M200,375 C205,355 220,340 240,340 C255,345 262,360 258,378 M75,405 L338,258 L590,350"/>
<path class="k" d="M592,350 L908,226"/>
<path class="t" style="stroke:#a4a4a4;stroke-width:0.8" d="M620,332 L625,345 M650,320 L655,333 M680,308 L685,321 M710,297 L715,310 M740,285 L745,298 M770,273 L775,286 M800,262 L805,275 M830,250 L835,263 M860,238 L865,251"/>
<path class="l" d="M590,350 L640,358 M640,352 L800,292 L826,302 L812,322 L690,376 L640,358"/>
<!-- tail -->
<path class="l" d="M775,236 C770,200 790,176 820,172 C850,176 880,200 890,226 M810,115 L900,72 L940,96 C990,140 1040,200 1046,236 L1060,290 L1040,316 L1000,290 L940,240 L910,226 M810,115 C840,135 870,170 890,216 M850,100 C900,130 930,170 946,210 M870,90 C920,120 956,165 970,206 M900,72 C960,110 1010,170 1030,232 M940,240 L1030,226 M1000,246 C1010,260 1016,280 1010,296 M1026,240 C1040,256 1046,280 1040,300 M830,128 L842,150"/>
<ellipse class="l" cx="1012" cy="268" rx="10" ry="20" transform="rotate(-20 1012 268)"/>
<path class="l" d="M1060,290 C1066,330 1050,370 1030,400 C990,460 900,540 800,600 C700,650 560,740 440,826"/>
<!-- vent right -->
<path class="l" d="M400,550 L830,355 C870,350 906,380 910,420 C906,446 890,460 870,476 L540,760 C520,766 506,750 496,736 L400,580 Z M435,570 L830,385 C860,385 880,406 880,430 L545,726 C530,726 520,716 516,706 Z"/>
<path class="l" style="stroke-width:0.9" d="M468,556 L578,702 M482,550 L594,692 M548,662 L570,642 L594,692 M530,527 L630,657 M544,521 L646,647 M600,617 L622,597 L646,647 M592,498 L682,612 M606,492 L698,602 M652,572 L674,552 L698,602 M654,469 L734,567 M668,463 L750,557 M704,527 L726,507 L750,557 M716,440 L786,522 M730,434 L802,512 M756,482 L778,462 L802,512 M778,411 L838,477 M792,405 L854,467 M808,437 L830,417 L854,467"/>
<!-- bands -->
<path class="l" d="M70,415 C160,470 250,560 290,602 C350,670 410,750 445,812 M110,396 C200,450 290,540 332,590 C390,655 440,730 475,790 M-242,923 L290,605 M-236,940 L300,626 M290,602 L300,626"/>
</g>
<text class="n" x="803" y="608">801</text>
<text class="n" x="1042.5" y="680.3">9</text>
<text class="s" x="984.7" y="726" font-size="12" textLength="131.7" lengthAdjust="spacingAndGlyphs">Änderungen vorbehalten</text>
<text class="s" x="984.7" y="739" font-size="12" textLength="119.8" lengthAdjust="spacingAndGlyphs">Modifications reserved</text>
<text class="s" x="984.7" y="751.6" font-size="12" textLength="126.4" lengthAdjust="spacingAndGlyphs">Modifications reservees</text>
<text class="s" x="984.7" y="764.4" font-size="12" textLength="113" lengthAdjust="spacingAndGlyphs">Salvo modificaciones</text>
</svg>
</body></html>
